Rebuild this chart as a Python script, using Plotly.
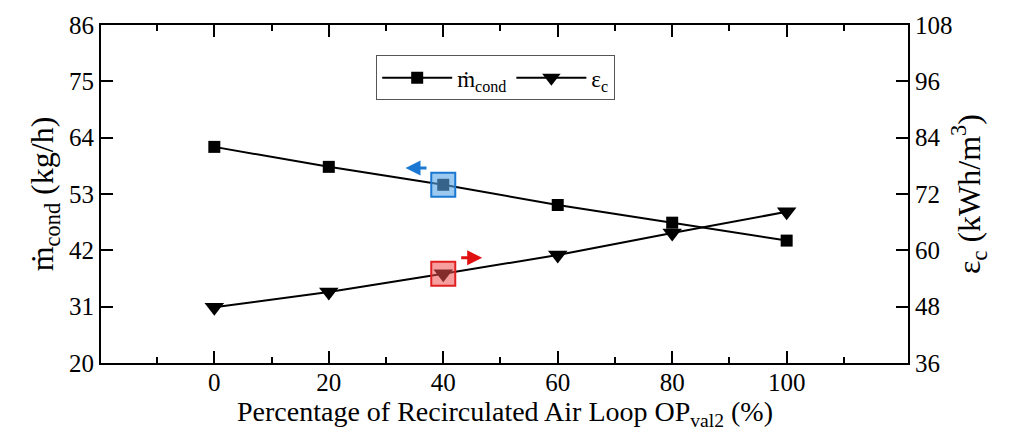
import plotly.graph_objects as go

recirc = [0, 20, 40, 60, 80, 100]
m_cond = [62.2, 58.3, 54.8, 50.85, 47.4, 43.9]
eps_c = [47.9, 51.1, 55.0, 59.0, 63.7, 68.2]
x_ticks = [0, 20, 40, 60, 80, 100]
x_minor = [-10, 10, 30, 50, 70, 90, 110]
y1_ticks = [20, 31, 42, 53, 64, 75, 86]
y2_ticks = [36, 48, 60, 72, 84, 96, 108]
hl_index = 2

FONT = "Liberation Serif, Times New Roman, serif"

fig = go.Figure()
fig.add_trace(go.Scatter(
    x=recirc, y=m_cond, mode="lines+markers", name="ṁ<sub>cond</sub>",
    line=dict(color="black", width=2),
    marker=dict(symbol="square", size=12, color="black"),
))
fig.add_trace(go.Scatter(
    x=recirc, y=eps_c, mode="lines+markers", name="ε<sub>c</sub>", yaxis="y2",
    line=dict(color="black", width=2),
    marker=dict(symbol="triangle-down", size=17, color="black"),
))
# highlight boxes
fig.add_trace(go.Scatter(
    x=[recirc[hl_index]], y=[m_cond[hl_index]], mode="markers", showlegend=False,
    marker=dict(symbol="square", size=24, color="rgba(90,165,230,0.6)",
                line=dict(color="#1a78d2", width=2)),
))
fig.add_trace(go.Scatter(
    x=[recirc[hl_index]], y=[eps_c[hl_index]], mode="markers", showlegend=False, yaxis="y2",
    marker=dict(symbol="square", size=24, color="rgba(240,80,80,0.55)",
                line=dict(color="#e02020", width=2)),
))

fig.add_annotation(x=33.4, y=58.1, xref="x", yref="y", ax=24, ay=0,
                   showarrow=True, arrowhead=2, arrowsize=1, arrowwidth=3,
                   arrowcolor="#1a78d2", text=" ")
fig.add_annotation(x=46.8, y=58.4, xref="x", yref="y2", ax=-24, ay=0,
                   showarrow=True, arrowhead=2, arrowsize=1, arrowwidth=3,
                   arrowcolor="#e01010", text=" ")

# x-axis title as a paper annotation for exact placement
fig.add_annotation(x=0.5, y=-0.148, xref="paper", yref="paper",
                   xanchor="center", yanchor="middle", showarrow=False,
                   text="Percentage of Recirculated Air Loop OP<sub>val2</sub> (%)",
                   font=dict(family=FONT, size=28, color="black"))

axis_common = dict(
    showline=True, linecolor="black", linewidth=2, ticks="inside", ticklen=12,
    tickwidth=2, tickcolor="black", showgrid=False, zeroline=False,
    tickfont=dict(family=FONT, size=25, color="black"),
)

fig.update_layout(
    width=1025, height=433,
    margin=dict(l=101, r=117, t=25, b=70),
    paper_bgcolor="white", plot_bgcolor="white",
    font=dict(family=FONT, color="black"),
    xaxis=dict(
        **axis_common, range=[-19.8, 121.2], tickmode="array", tickvals=x_ticks,
        mirror="ticks", automargin=False, ticklabelstandoff=-4,
        minor=dict(tickmode="array", tickvals=x_minor, ticks="inside", ticklen=6,
                   tickwidth=2, tickcolor="black"),
    ),
    yaxis=dict(
        **axis_common, range=[20, 86], tickmode="array", tickvals=y1_ticks,
        automargin=False,
        title=dict(text="ṁ<sub>cond</sub> (kg/h)",
                   font=dict(family=FONT, size=32, color="black"), standoff=6),
    ),
    yaxis2=dict(
        **axis_common, range=[36, 108], tickmode="array", tickvals=y2_ticks,
        overlaying="y", side="right", automargin=False,
        title=dict(text="ε<sub>c</sub> (kWh/m<sup>3</sup>)",
                   font=dict(family=FONT, size=32, color="black"), standoff=6),
    ),
    legend=dict(
        orientation="h", x=0.341, y=0.91, xanchor="left", yanchor="top",
        bordercolor="#555555", borderwidth=1, bgcolor="white",
        font=dict(family=FONT, size=23, color="black"), itemwidth=70,
        tracegroupgap=0,
    ),
    showlegend=True,
)

fig.write_html("out.html")
